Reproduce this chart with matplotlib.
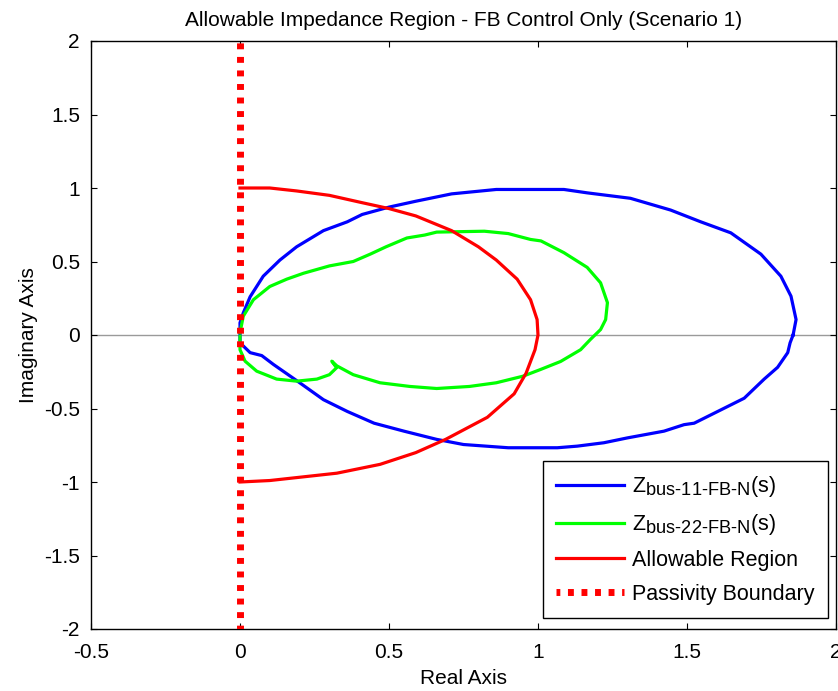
import matplotlib
matplotlib.use("Agg")
import matplotlib.pyplot as plt
import matplotlib._mathtext as mathtext_mod
import numpy as np

plt.rcParams['font.family'] = ['Liberation Sans', 'DejaVu Sans']
plt.rcParams['mathtext.fontset'] = 'custom'
plt.rcParams['mathtext.rm'] = 'Liberation Sans'
plt.rcParams['mathtext.it'] = 'Liberation Sans:italic'
# MATLAB draws subscripts nearly full size
mathtext_mod.SHRINK_FACTOR = 0.85

# Z_bus-11 (blue), counter-clockwise from the right
blue_x = [1.856, 1.866, 1.849, 1.815, 1.748, 1.647, 1.546, 1.445, 1.31, 1.165,
          1.087, 0.94, 0.86, 0.81, 0.71, 0.59, 0.50, 0.41, 0.36, 0.28,
          0.19, 0.134, 0.078, 0.034, 0.011, 0.0, 0.0, 0.0, 0.034, 0.073,
          0.112, 0.19, 0.28, 0.36, 0.45, 0.55, 0.66, 0.75, 0.90, 0.941,
          1.065, 1.132, 1.221, 1.30, 1.423, 1.49, 1.524, 1.613, 1.692, 1.759,
          1.804, 1.838, 1.846, 1.856]
blue_y = [0.0, 0.105, 0.264, 0.40, 0.55, 0.695, 0.77, 0.85, 0.93, 0.967,
          0.99, 0.99, 0.99, 0.98, 0.96, 0.91, 0.87, 0.82, 0.77, 0.71,
          0.60, 0.51, 0.40, 0.26, 0.15, 0.083, 0.015, -0.053, -0.12, -0.14,
          -0.20, -0.31, -0.44, -0.52, -0.60, -0.654, -0.71, -0.745, -0.767, -0.767,
          -0.767, -0.756, -0.733, -0.70, -0.654, -0.61, -0.60, -0.51, -0.43, -0.30,
          -0.22, -0.12, -0.053, 0.0]

# Z_bus-22 (green)
green_x = [0.0, 0.011, 0.045, 0.10, 0.157, 0.213, 0.30, 0.38, 0.437, 0.49,
           0.56, 0.62, 0.66, 0.82, 0.90, 0.975, 1.01, 1.087, 1.165, 1.21,
           1.233, 1.227, 1.21, 1.176, 1.143, 1.076, 1.008, 0.95, 0.86, 0.77,
           0.66, 0.57, 0.47, 0.38, 0.325, 0.308, 0.324, 0.30, 0.258, 0.19,
           0.123, 0.056, 0.017, 0.0, 0.0]
green_y = [0.015, 0.128, 0.24, 0.33, 0.38, 0.42, 0.47, 0.50, 0.55, 0.60,
           0.66, 0.68, 0.70, 0.706, 0.69, 0.65, 0.64, 0.56, 0.46, 0.355,
           0.22, 0.105, 0.037, -0.03, -0.10, -0.18, -0.235, -0.28, -0.325, -0.35,
           -0.364, -0.35, -0.325, -0.27, -0.21, -0.178, -0.223, -0.27, -0.30, -0.314,
           -0.30, -0.246, -0.178, -0.10, -0.01]

# allowable region (red)
red_x = [0.0, 0.10, 0.19, 0.30, 0.41, 0.50, 0.59, 0.71, 0.80, 0.86,
         0.93, 0.975, 0.997, 1.0, 0.99, 0.96, 0.92, 0.83, 0.69, 0.59,
         0.47, 0.325, 0.19, 0.10, 0.0]
red_y = [1.0, 1.0, 0.98, 0.95, 0.90, 0.86, 0.81, 0.71, 0.60, 0.51,
         0.38, 0.24, 0.105, 0.0, -0.10, -0.26, -0.40, -0.56, -0.71, -0.80,
         -0.88, -0.94, -0.97, -0.99, -1.0]

pass_x = [0, 0]
pass_y = [-2, 2]

fig = plt.figure(figsize=(8.38, 6.91), dpi=100)
ax = fig.add_axes([91/838, 1 - 629/691, 745/838, 588/691])

ax.axhline(0, color='#9a9a9a', lw=1.0, zorder=1)

hy = '\u2010'
ax.plot(blue_x, blue_y, color='#0000ff', lw=2.3, zorder=2,
        label=r'$\mathregular{Z_{bus%s11%sFB%sN}}$(s)' % (hy, hy, hy))
ax.plot(green_x, green_y, color='#00ff00', lw=2.3, zorder=2,
        label=r'$\mathregular{Z_{bus%s22%sFB%sN}}$(s)' % (hy, hy, hy))
ax.plot(red_x, red_y, color='#ff0000', lw=2.3, zorder=3, label='Allowable Region')
ax.plot(pass_x, pass_y, color='#ff0000', lw=5, linestyle=(0.3, (0.85, 1.1)),
        dash_capstyle='butt', zorder=4, label='Passivity Boundary')

ax.set_xlim(-0.5, 2)
ax.set_ylim(-2, 2)
ax.set_xticks(np.arange(-0.5, 2.01, 0.5))
ax.set_yticks(np.arange(-2, 2.01, 0.5))
ax.set_xticklabels(['-0.5', '0', '0.5', '1', '1.5', '2'])
ax.set_yticklabels(['-2', '-1.5', '-1', '-0.5', '0', '0.5', '1', '1.5', '2'])
ax.tick_params(direction='in', length=4, width=0.8, top=True, right=True,
               labelsize=15)
ax.tick_params(axis='x', pad=10)
ax.tick_params(axis='y', pad=8)
for s in ax.spines.values():
    s.set_linewidth(1.0)

ax.set_title('Allowable Impedance Region - FB Control Only (Scenario 1)',
             fontsize=15, pad=11)
ax.set_xlabel('Real Axis', fontsize=15, labelpad=5)
ax.set_ylabel('Imaginary Axis', fontsize=15, labelpad=4)

leg = ax.legend(loc='lower right', bbox_to_anchor=(0.989, 0.019),
                borderaxespad=0, fontsize=15.5, handlelength=3.15,
                handletextpad=0.4, fancybox=False, framealpha=1,
                edgecolor='black', labelspacing=0.6, borderpad=0.6)
leg.get_frame().set_linewidth(1.0)

fig.savefig('out.png', dpi=100)
